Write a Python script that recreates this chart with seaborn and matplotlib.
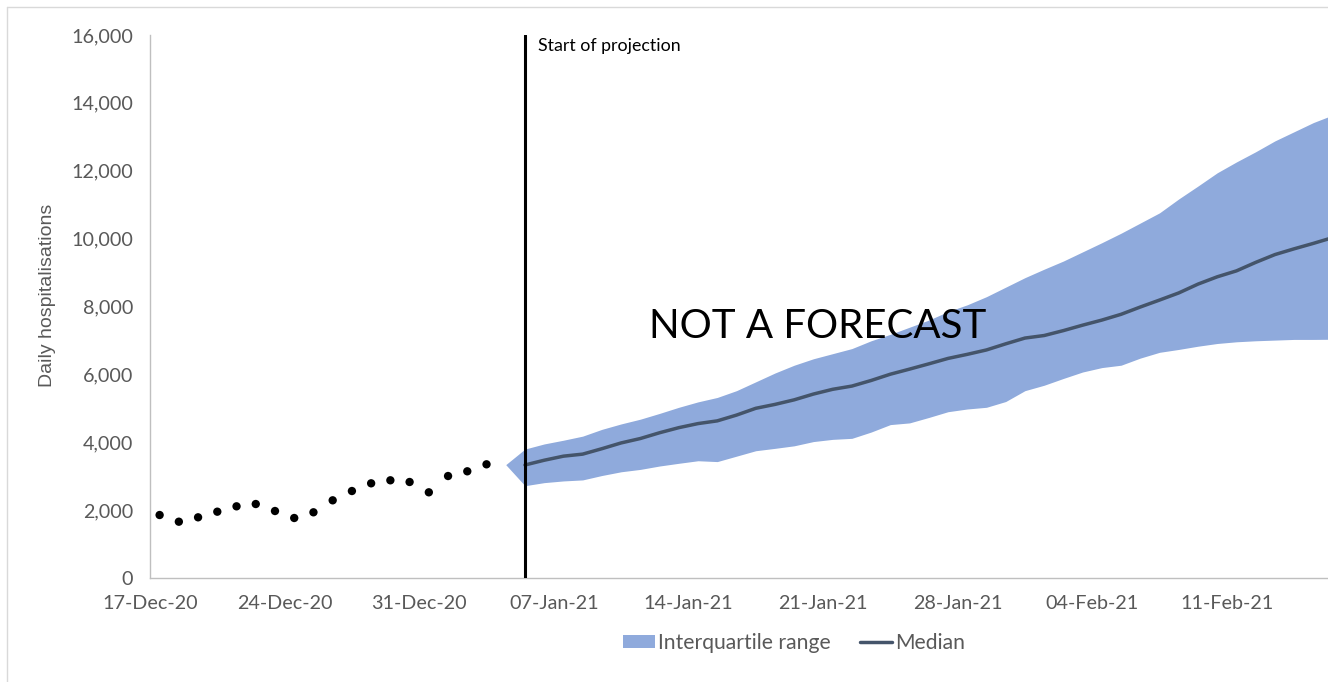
import pandas as pd
import matplotlib.pyplot as plt
import matplotlib.dates as mdates
import matplotlib.ticker as mticker
from matplotlib.patches import Patch
from matplotlib.lines import Line2D
import seaborn as sns

# observed daily hospitalisations, 17-Dec-20 .. 03-Jan-21
obs_start = '2020-12-17'
obs_values = [1856, 1659, 1788, 1954, 2112, 2180, 1974, 1768, 1936, 2289,
              2563, 2790, 2879, 2829, 2525, 3005, 3144, 3350]

# projection, 05-Jan-21 .. 16-Feb-21
proj_start = '2021-01-05'
tip_value = 3340  # band joins the last observation on 04-Jan
median = [3330, 3470, 3590, 3650, 3810, 3980, 4110, 4280, 4430, 4550,
          4630, 4800, 5000, 5115, 5250, 5420, 5560, 5655, 5820, 6005,
          6155, 6310, 6470, 6590, 6720, 6900, 7070, 7145, 7290, 7450,
          7600, 7770, 7985, 8190, 8400, 8660, 8875, 9050, 9300, 9530,
          9700, 9860, 10030]
lower = [2720, 2810, 2860, 2890, 3020, 3130, 3200, 3300, 3380, 3455,
         3430, 3590, 3750, 3820, 3895, 4020, 4085, 4115, 4300, 4520,
         4570, 4730, 4900, 4980, 5030, 5200, 5520, 5680, 5880, 6070,
         6200, 6270, 6480, 6650, 6735, 6830, 6910, 6960, 6990, 7010,
         7030, 7030, 7035]
upper = [3800, 3950, 4060, 4180, 4380, 4540, 4680, 4850, 5030, 5190,
         5320, 5520, 5780, 6040, 6270, 6460, 6610, 6760, 6990, 7180,
         7390, 7600, 7850, 8050, 8290, 8570, 8850, 9100, 9340, 9610,
         9880, 10160, 10460, 10760, 11170, 11550, 11940, 12260, 12560, 12880,
         13150, 13420, 13640]

tick_labels_dates = ['2020-12-17', '2020-12-24', '2020-12-31', '2021-01-07',
                     '2021-01-14', '2021-01-21', '2021-01-28', '2021-02-04',
                     '2021-02-11']

half_day = pd.Timedelta(hours=12)
obs = pd.DataFrame({'date': pd.date_range(obs_start, periods=len(obs_values)) + half_day,
                    'value': obs_values})
proj = pd.DataFrame({'date': pd.date_range(proj_start, periods=len(median)) + half_day,
                     'median': median, 'lower': lower, 'upper': upper})
tip_date = proj['date'].iloc[0] - pd.Timedelta(days=1)

band_color = '#8FAADC'
median_color = '#44546A'
grey = '#595959'

sns.set_style('white')
plt.rcParams['font.family'] = ['Lato', 'DejaVu Sans']

fig = plt.figure(figsize=(13.28, 6.82), dpi=100)
ax = fig.add_axes([150 / 1328, 1 - 578 / 682, 1 - 150 / 1328, (578 - 35) / 682])

band_x = [tip_date] + list(proj['date'])
ax.fill_between(band_x, [tip_value] + lower, [tip_value] + upper,
                color=band_color, linewidth=0, zorder=1)
sns.lineplot(data=proj, x='date', y='median', color=median_color, linewidth=2.5,
             ax=ax, zorder=2)
sns.scatterplot(data=obs, x='date', y='value', color='black', s=36,
                edgecolor='none', ax=ax, zorder=3)
ax.axvline(proj['date'].iloc[0], color='black', linewidth=2.2, zorder=4)

ax.set_xlim(pd.Timestamp(obs_start), pd.Timestamp(obs_start) + pd.Timedelta(days=61.26))
ax.set_ylim(0, 16000)
ax.yaxis.set_major_locator(mticker.MultipleLocator(2000))
ax.yaxis.set_major_formatter(mticker.FuncFormatter(lambda v, p: f'{int(v):,}'))
ax.set_xticks(pd.to_datetime(tick_labels_dates))
ax.xaxis.set_major_formatter(mdates.DateFormatter('%d-%b-%y'))

for s in ['top', 'right']:
    ax.spines[s].set_visible(False)
for s in ['left', 'bottom']:
    ax.spines[s].set_color('#BFBFBF')
    ax.spines[s].set_linewidth(1)
ax.tick_params(axis='both', colors='#BFBFBF', labelcolor=grey, labelsize=14.2,
               direction='out', length=5, width=1)
ax.tick_params(axis='x', pad=7)
ax.tick_params(axis='y', pad=7)

ax.set_xlabel('')
ax.set_ylabel('Daily hospitalisations', color=grey, fontsize=14,
              family=['Liberation Sans', 'DejaVu Sans'])
ax.yaxis.set_label_coords(-0.08, 0.521)

ax.text(pd.Timestamp('2021-01-06 04:00'), 15900, 'Start of projection',
        fontsize=12.8, color='black', va='top', ha='left')
ax.text(pd.Timestamp('2021-01-20 17:00'), 7400, 'NOT A FORECAST',
        fontsize=29, color='black', va='center', ha='center')

handles = [Patch(facecolor=band_color, edgecolor='none', label='Interquartile range'),
           Line2D([0], [0], color=median_color, linewidth=2.5, label='Median')]
leg = fig.legend(handles=handles, loc='center', bbox_to_anchor=(794 / 1328, 1 - 643 / 682),
                 ncol=2, frameon=False, fontsize=15.2, handlelength=1.5,
                 handleheight=0.6, handletextpad=0.15, columnspacing=1.4)
for t in leg.get_texts():
    t.set_color(grey)

# outer chart frame (top and left edges visible)
fig.add_artist(Line2D([7 / 1328, 1], [1 - 7 / 682, 1 - 7 / 682], color='#D9D9D9', linewidth=1))
fig.add_artist(Line2D([7 / 1328, 7 / 1328], [0, 1 - 7 / 682], color='#D9D9D9', linewidth=1))

fig.savefig('out.png', dpi=100, facecolor='white')
